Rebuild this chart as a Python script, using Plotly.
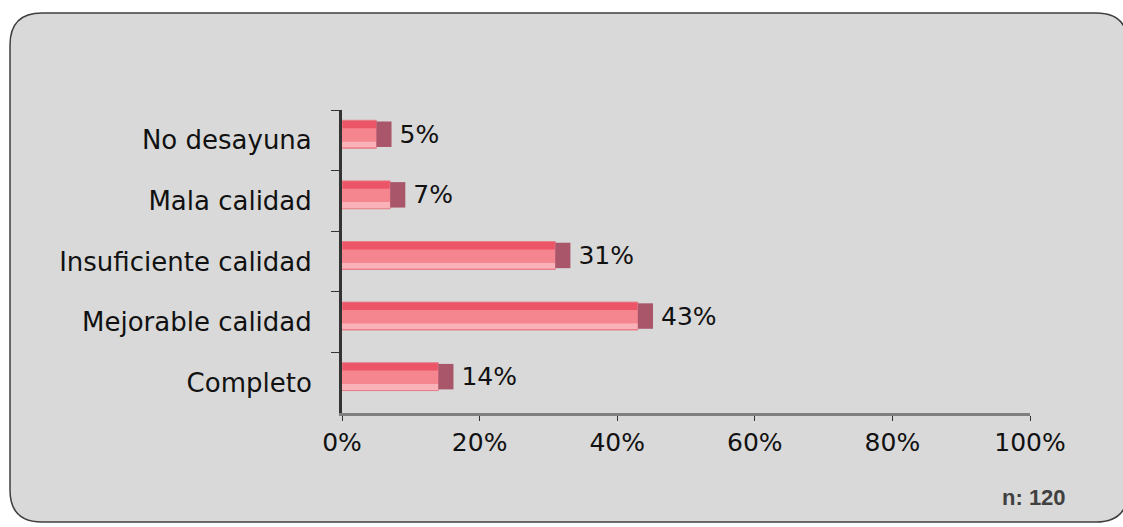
import plotly.graph_objects as go

# Desayuno: calidad reportada (n = 120)
categorias = ["No desayuna", "Mala calidad", "Insuficiente calidad", "Mejorable calidad", "Completo"]
porcentajes = [5, 7, 31, 43, 14]
etiquetas = ["5%", "7%", "31%", "43%", "14%"]
ticks_x = [0, 20, 40, 60, 80, 100]
ticks_x_texto = ["0%", "20%", "40%", "60%", "80%", "100%"]
nota_muestra = "n: 120"

W, H = 1123, 527
L, R, T, B = 342, 93, 110, 114
pw, ph = W - L - R, H - T - B

FONT = "DejaVu Sans"
profundidad = 2.2  # grosor del borde 3D al final de cada barra, en %

fig = go.Figure()

# cuerpo de la barra
fig.add_trace(go.Bar(
    y=categorias, x=porcentajes, orientation="h",
    width=0.46, offset=-0.33,
    marker=dict(color="#ec5467", line=dict(color="#e57f89", width=1)),
    hoverinfo="skip", showlegend=False,
))
# zona media más clara
fig.add_trace(go.Bar(
    y=categorias, x=porcentajes, orientation="h",
    width=0.22, offset=-0.2,
    marker=dict(color="#f5858f", line=dict(width=0)),
    hoverinfo="skip", showlegend=False,
))
# brillo en el borde inferior
fig.add_trace(go.Bar(
    y=categorias, x=porcentajes, orientation="h",
    width=0.1, offset=0.02,
    marker=dict(color="#f9b3b8", line=dict(width=0)),
    hoverinfo="skip", showlegend=False,
))
# cara final (efecto 3D) con la etiqueta de valor
fig.add_trace(go.Bar(
    y=categorias, x=[profundidad] * len(porcentajes), base=porcentajes,
    orientation="h", width=0.42, offset=-0.31,
    marker=dict(color="#a9566a", line=dict(width=0)),
    text=etiquetas, texttemplate="\u2009%{text}",
    textposition="outside", cliponaxis=False, constraintext="none",
    textfont=dict(family=FONT, size=25, color="#111111"),
    hoverinfo="skip", showlegend=False,
))


def px(xp):
    return (xp - L) / pw


def py(yp):
    return (H - B - yp) / ph


# marco redondeado de fondo
x0, y0, x1, y1, r = 10, 13, 1128, 522, 32
path = (
    f"M {px(x0 + r)},{py(y0)} L {px(x1 - r)},{py(y0)} "
    f"Q {px(x1)},{py(y0)} {px(x1)},{py(y0 + r)} "
    f"L {px(x1)},{py(y1 - r)} Q {px(x1)},{py(y1)} {px(x1 - r)},{py(y1)} "
    f"L {px(x0 + r)},{py(y1)} Q {px(x0)},{py(y1)} {px(x0)},{py(y1 - r)} "
    f"L {px(x0)},{py(y0 + r)} Q {px(x0)},{py(y0)} {px(x0 + r)},{py(y0)} Z"
)

fig.update_layout(
    width=W, height=H,
    margin=dict(l=L, r=R, t=T, b=B, pad=0),
    paper_bgcolor="white",
    plot_bgcolor="rgba(0,0,0,0)",
    barmode="overlay",
    font=dict(family=FONT, size=25, color="#111111"),
    shapes=[dict(
        type="path", path=path, xref="paper", yref="paper",
        fillcolor="#d9d9d9", line=dict(color="#3f3f3f", width=1.5),
        layer="below",
    )],
    annotations=[dict(
        text=nota_muestra, xref="paper", yref="paper",
        x=px(1034), y=py(497), xanchor="center", yanchor="middle",
        showarrow=False,
        font=dict(family="Liberation Sans", size=22, color="#404040", weight="bold"),
    )],
)

fig.update_xaxes(
    range=[0, 100], tickvals=ticks_x, ticktext=ticks_x_texto,
    showgrid=False, zeroline=False,
    showline=True, linecolor="#7f7f7f", linewidth=3,
    ticks="outside", ticklen=5, tickcolor="#333333", tickwidth=1,
    tickfont=dict(family=FONT, size=25, color="#111111"),
)
fig.update_yaxes(
    autorange="reversed", showgrid=False, zeroline=False,
    showline=True, linecolor="#333333", linewidth=3,
    ticks="outside", tickson="boundaries", ticklen=8,
    tickcolor="#333333", tickwidth=1,
    tickfont=dict(family=FONT, size=26, color="#111111"),
    ticklabelstandoff=22,
)

fig.write_html("out.html")
